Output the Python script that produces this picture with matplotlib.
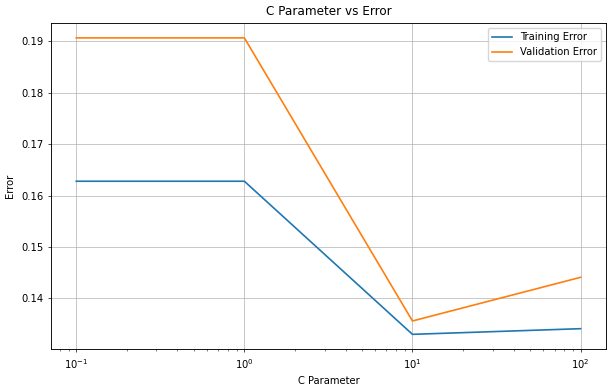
import numpy as np
import matplotlib.pyplot as plt

# C values and errors
c_values = [0.1, 1, 10, 100]
train_error = [0.1628, 0.1628, 0.1330, 0.1341]
val_error = [0.1907, 0.1907, 0.1356, 0.1441]

s = 0.62  # scale of the original figure
plt.rcParams['font.size'] = 7.2
plt.rcParams['lines.linewidth'] = 1.2
plt.rcParams['grid.linewidth'] = 0.8 * s
plt.rcParams['axes.linewidth'] = 0.8 * s * 1.3
for a in ('xtick', 'ytick'):
    plt.rcParams[a + '.major.size'] = 3.5 * s
    plt.rcParams[a + '.minor.size'] = 2 * s
    plt.rcParams[a + '.major.width'] = 0.8 * s
    plt.rcParams[a + '.minor.width'] = 0.6 * s

fig = plt.figure(figsize=(6.15, 3.91), dpi=100)
ax = fig.add_axes([0.083, 0.107, 0.902, 0.834])
ax.plot(c_values, train_error, label='Training Error')
ax.plot(c_values, val_error, label='Validation Error')
ax.set_xscale('log')
ax.set_xlabel('C Parameter')
ax.set_ylabel('Error')
ax.set_title('C Parameter vs Error')
ax.legend()
ax.grid(True)
fig.savefig('out.png', dpi=100)
